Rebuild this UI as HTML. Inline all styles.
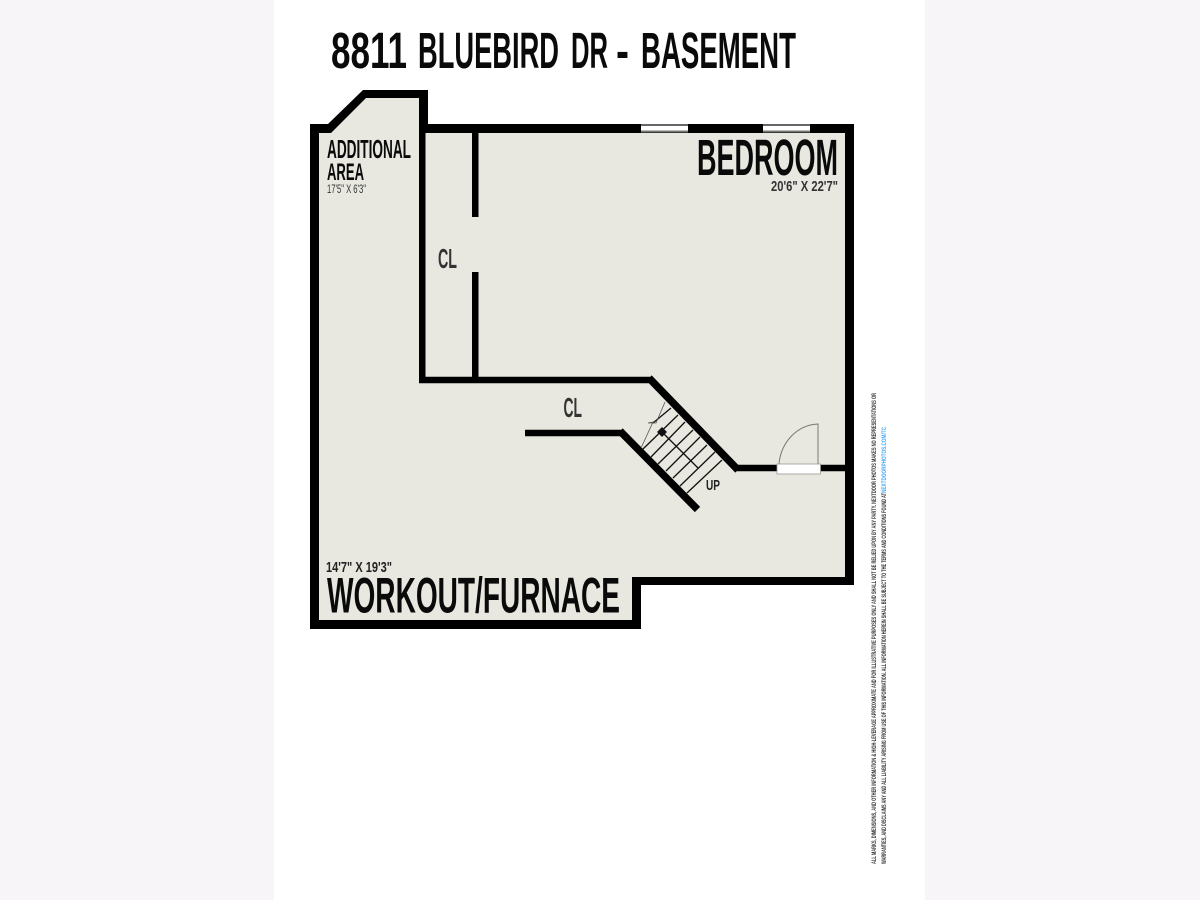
<!DOCTYPE html>
<html>
<head>
<meta charset="utf-8">
<style>
html,body{margin:0;padding:0;background:#f7f5f8;width:1200px;height:900px;overflow:hidden}
svg{display:block}
text{font-family:"Liberation Sans",sans-serif}
</style>
</head>
<body>
<svg width="1200" height="900" viewBox="0 0 1200 900" xmlns="http://www.w3.org/2000/svg">
<rect width="1200" height="900" fill="#f7f5f8"/>
<rect x="274" y="0" width="651" height="900" fill="#fff"/>

<g font-size="51" font-weight="700" fill="#0a0a0a">
<text x="331" y="68" textLength="76" lengthAdjust="spacingAndGlyphs">8811</text>
<text x="418" y="68" textLength="141" lengthAdjust="spacingAndGlyphs">BLUEBIRD</text>
<text x="571" y="68" textLength="37" lengthAdjust="spacingAndGlyphs">DR</text>
<text x="616" y="68" textLength="13" lengthAdjust="spacingAndGlyphs">-</text>
<text x="641" y="68" textLength="155" lengthAdjust="spacingAndGlyphs">BASEMENT</text>
</g>

<!-- outer walls -->
<polygon points="310,124 328,124 363,90 428,90 428,124 854,124 854,585 641,585 641,629 310,629" fill="#000"/>
<polygon points="319,133 331,133 366,98 419,98 419,133 845,133 845,577 632,577 632,620 319,620" fill="#e8e8e1"/>

<!-- interior walls -->
<rect x="419" y="98" width="6.500" height="285" fill="#000"/>
<rect x="419" y="124" width="9" height="9" fill="#000"/>
<rect x="472" y="133" width="6.500" height="84" fill="#000"/>
<rect x="472" y="272" width="6.500" height="108" fill="#000"/>
<polyline points="419,380 650,380" fill="none" stroke="#000" stroke-width="6.500"/>
<polyline points="737,468 845,468" fill="none" stroke="#000" stroke-width="6.500"/>
<polyline points="649,378 738,470" fill="none" stroke="#000" stroke-width="7.500"/>
<polyline points="525,433 622,433" fill="none" stroke="#000" stroke-width="6.500"/>
<polyline points="620,431 697.5,509.5" fill="none" stroke="#000" stroke-width="7.500"/>

<!-- windows -->
<rect x="641" y="124" width="47" height="8.500" fill="#fff"/>
<rect x="641" y="124" width="47" height="2" fill="#666"/>
<rect x="641" y="130.500" width="47" height="2" fill="#777"/>
<rect x="763" y="124" width="47" height="8.500" fill="#fff"/>
<rect x="763" y="124" width="47" height="2" fill="#666"/>
<rect x="763" y="130.500" width="47" height="2" fill="#777"/>

<!-- stairs -->
<g stroke="#111" stroke-width="1.300" fill="none">
<line x1="653" y1="423" x2="671" y2="408"/>
<line x1="643" y1="449" x2="678" y2="415"/>
<line x1="651" y1="457" x2="685" y2="422"/>
<line x1="658" y1="464" x2="693" y2="430"/>
<line x1="666" y1="471" x2="700" y2="437"/>
<line x1="673" y1="478" x2="707" y2="445"/>
<line x1="680" y1="486" x2="715" y2="452"/>
<line x1="687" y1="493" x2="722" y2="460"/>
<line x1="662" y1="432" x2="698" y2="468"/>
</g>
<polyline points="641,448 653,422 648,423 656,423 665,402" fill="none" stroke="#555" stroke-width="0.800"/>
<polygon points="662,427 667,432 662,437 657,432" fill="#111"/>

<!-- door -->
<path d="M779,464 C781,442 797,425 818,424 L818,464" fill="none" stroke="#777" stroke-width="1"/>
<rect x="777" y="464" width="43.500" height="10" fill="#fff" stroke="#999" stroke-width="0.800"/>

<!-- labels -->
<text x="697" y="175" font-size="51" font-weight="700" fill="#0a0a0a" textLength="141" lengthAdjust="spacingAndGlyphs">BEDROOM</text>
<text x="771" y="191" font-size="14.500" font-weight="700" fill="#333" textLength="67" lengthAdjust="spacingAndGlyphs">20'6" X 22'7"</text>
<text x="327" y="158" font-size="25.500" font-weight="700" fill="#0a0a0a" textLength="84" lengthAdjust="spacingAndGlyphs">ADDITIONAL</text>
<text x="327" y="180" font-size="24.500" font-weight="700" fill="#0a0a0a" textLength="37" lengthAdjust="spacingAndGlyphs">AREA</text>
<text x="327" y="193" font-size="11.500" fill="#333" textLength="39" lengthAdjust="spacingAndGlyphs">17'5" X 6'3"</text>
<text x="438" y="268" font-size="28" font-weight="700" fill="#333" textLength="19" lengthAdjust="spacingAndGlyphs">CL</text>
<text x="563.500" y="417" font-size="28" font-weight="700" fill="#333" textLength="18.500" lengthAdjust="spacingAndGlyphs">CL</text>
<text x="706" y="490" font-size="14.500" font-weight="700" fill="#222" textLength="14" lengthAdjust="spacingAndGlyphs">UP</text>
<text x="326" y="572" font-size="14.500" fill="#222" font-weight="700" textLength="66" lengthAdjust="spacingAndGlyphs">14'7" X 19'3"</text>
<text x="327" y="612.500" font-size="50" font-weight="700" fill="#0a0a0a" textLength="293" lengthAdjust="spacingAndGlyphs">WORKOUT/FURNACE</text>

<!-- legal -->
<g font-size="6.500" font-weight="700">
<text transform="translate(876,864) rotate(-90)" fill="#333" textLength="471" lengthAdjust="spacingAndGlyphs">ALL MARKS, DIMENSIONS, AND OTHER INFORMATION &amp; HIGH-LEVERAGE APPROXIMATE AND FOR ILLUSTRATIVE PURPOSES ONLY AND SHALL NOT BE RELIED UPON BY ANY PARTY. NEXTDOOR PHOTOS MAKES NO REPRESENTATIONS OR</text>
<text transform="translate(886,864) rotate(-90)" fill="#333" textLength="371" lengthAdjust="spacingAndGlyphs">WARRANTIES, AND DISCLAIMS ANY AND ALL LIABILITY ARISING FROM USE OF THIS INFORMATION. ALL INFORMATION HEREIN SHALL BE SUBJECT TO THE TERMS AND CONDITIONS FOUND AT</text>
<text transform="translate(886,493) rotate(-90)" fill="#3fa9f5" textLength="66" lengthAdjust="spacingAndGlyphs">NEXTDOORPHOTOS.COM/TC</text>
</g>
</svg>
</body>
</html>
